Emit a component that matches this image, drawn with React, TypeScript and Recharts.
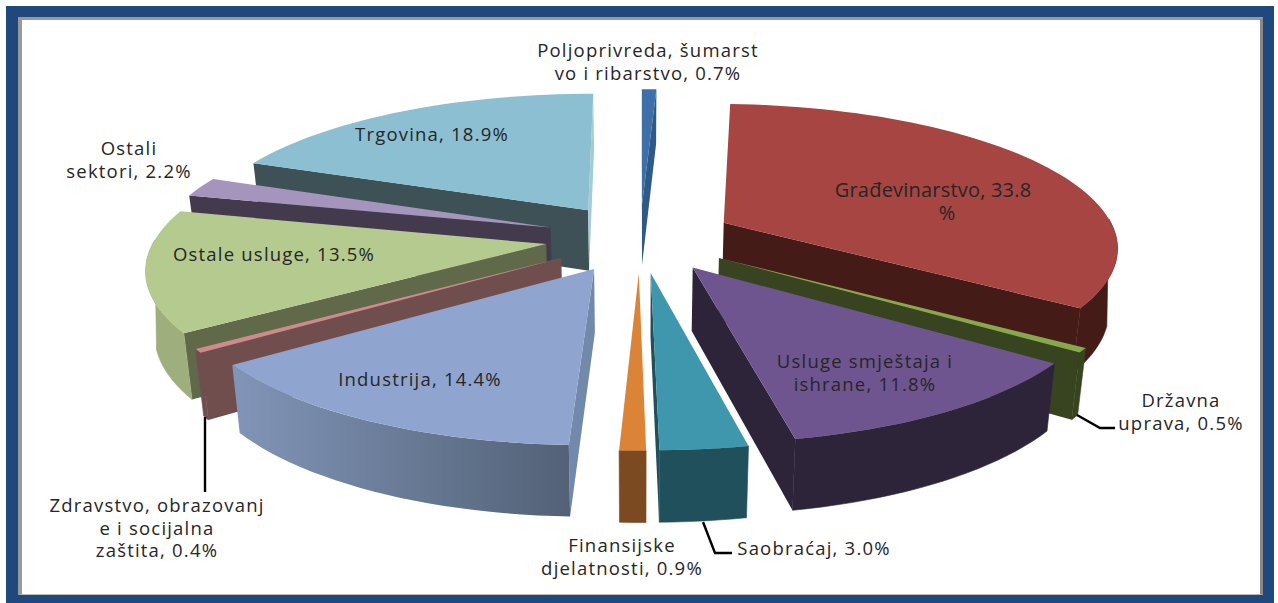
import React from 'react';
import { PieChart, Pie } from 'recharts';

const sectors = [
  'Poljoprivreda, šumarstvo i ribarstvo',
  'Građevinarstvo',
  'Državna uprava',
  'Usluge smještaja i ishrane',
  'Saobraćaj',
  'Finansijske djelatnosti',
  'Industrija',
  'Zdravstvo, obrazovanje i socijalna zaštita',
  'Ostale usluge',
  'Ostali sektori',
  'Trgovina',
];
const shares = [0.7, 33.8, 0.5, 11.8, 3.0, 0.9, 14.4, 0.4, 13.5, 2.2, 18.9];

// colours per sector: top face, outer wall, cut faces
const topColors = ['#3D70A8', '#A64541', '#86A94C', '#6F5590', '#3F97AE', '#DB8437', '#8FA5CF', '#CF8B8A', '#B5CA8E', '#A594BC', '#8CBFD1'];
const wallColors = ['#2B5078', '#451B18', '#38431F', '#2E2439', '#20505C', '#7B4A20', 'url(#industrijaWall)', '#704E4D', '#9FAE7D', '#433A4E', '#3D5157'];
const startCutColors = ['#2F5A88', '#451B18', '#38431F', '#2E2439', '#20505C', '#7B4A20', '#7389AC', '#704E4D', '#61694B', '#433A4E', '#3D5157'];
const endCutColors = ['#2F5A88', '#451B18', '#38431F', '#2E2439', '#20505C', '#7B4A20', '#6A7D9E', '#704E4D', '#61694B', '#433A4E', '#A5CBD8'];

// back slices first so the front ones cover them
const drawOrder = [10, 0, 9, 8, 1, 2, 3, 7, 6, 4, 5];

const labelLines = [
  ['Poljoprivreda, šumarst', 'vo i ribarstvo, 0.7%'],
  ['Građevinarstvo, 33.8', '%'],
  ['Državna', 'uprava, 0.5%'],
  ['Usluge smještaja i', 'ishrane, 11.8%'],
  ['Saobraćaj, 3.0%'],
  ['Finansijske', 'djelatnosti, 0.9%'],
  ['Industrija, 14.4%'],
  ['Zdravstvo, obrazovanj', 'e i socijalna', 'zaštita, 0.4%'],
  ['Ostale usluge, 13.5%'],
  ['Ostali', 'sektori, 2.2%'],
  ['Trgovina, 18.9%'],
];
// label anchor [centre x, first baseline]
const labelSpots = [
  [648, 57], [933, 197], [1181, 407], [865, 368], [814, 555], [622, 552],
  [420, 386], [157, 512], [274, 261], [129, 155], [432, 141],
];
const leaderLines: Record<number, string> = {
  2: 'M1077 415 L1100 428 L1115 428',
  4: 'M703 522 L715 553 L732 553',
  7: 'M205 417 L205 492',
};

const tableData = sectors.map((name, i) => ({ name, value: shares[i] }));

const TILT = 0.362; // vertical squash of the pie
const PERSPECTIVE = 0.111;
const EXPLODE = 0.24;
const DEPTH = 62; // wall height at the pie centre
const BOTTOM_SQUEEZE = 0.982;
const ANGLE_WARP = 2.5; // degrees, the source render opens the front slices a bit
const APEX_LIFT = 7;

type Pt = [number, number];

function project(cx: number, cy: number, r: number, X: number, Z: number, bottom = false): Pt {
  const d = 1 + PERSPECTIVE * Z;
  let x = cx + (r * X) / d;
  let y = cy - (r * TILT * Z) / d;
  if (bottom) {
    x = cx + (x - cx) * BOTTOM_SQUEEZE;
    y += DEPTH / d;
  }
  return [x, y];
}

const toPath = (pts: Pt[]) =>
  pts.map((p, i) => `${i ? 'L' : 'M'}${p[0].toFixed(1)} ${p[1].toFixed(1)}`).join(' ') + ' Z';

const rad = (deg: number) => (deg * Math.PI) / 180;

function Slice3D(props: any) {
  const { cx, cy, outerRadius: r, startAngle, endAngle, index } = props;
  // clockwise degrees from the top
  const t0 = 90 - startAngle;
  const t1 = 90 - endAngle;
  const mid = rad((t0 + t1) / 2);
  const ex = Math.sin(mid) * EXPLODE;
  const ez = Math.cos(mid) * EXPLODE;

  const rim = (deg: number, bottom = false) => {
    const w = deg - ANGLE_WARP * Math.sin(rad(deg));
    return project(cx, cy, r, Math.sin(rad(w)) + ex, Math.cos(rad(w)) + ez, bottom);
  };
  const apex = (bottom = false): Pt => {
    const p = project(cx, cy, r, ex, ez, bottom);
    return [p[0], p[1] - APEX_LIFT];
  };

  const arcAngles = (a: number, b: number) => {
    const out: number[] = [];
    const n = Math.max(1, Math.ceil((b - a) / 2));
    for (let i = 0; i <= n; i++) out.push(a + ((b - a) * i) / n);
    return out;
  };

  const top: Pt[] = [apex(), ...arcAngles(t0, t1).map((a) => rim(a))];

  const cutFace = (deg: number): Pt[] => [apex(), rim(deg), rim(deg, true), apex(true)];
  const area = (q: Pt[]) =>
    q.reduce((s, p, i) => {
      const n = q[(i + 1) % q.length];
      return s + p[0] * n[1] - n[0] * p[1];
    }, 0);

  const startFace = cutFace(t0);
  const endFace = cutFace(t1);

  // front half of the rim only, the sides run as a tangent from top rim to bottom rim
  const wa = Math.max(t0, 88);
  const wb = Math.min(t1, 272);
  const ba = t0 < 88 ? 106 : wa;
  const bb = t1 > 272 ? 254 : wb;
  const wall: Pt[] =
    wb > wa
      ? [...arcAngles(wa, wb).map((a) => rim(a)), ...arcAngles(ba, bb).reverse().map((a) => rim(a, true))]
      : [];

  return (
    <g>
      {area(startFace) < 0 && <path d={toPath(startFace)} fill={startCutColors[index]} />}
      {area(endFace) > 0 && <path d={toPath(endFace)} fill={endCutColors[index]} />}
      {wall.length > 0 && (
        <path d={toPath(wall)} fill={wallColors[index]} stroke={index === 6 ? 'none' : wallColors[index]} strokeWidth={0.6} />
      )}
      <path d={toPath(top)} fill={topColors[index]} />
    </g>
  );
}

function SliceLabel(props: any) {
  const { index } = props;
  const [x, y] = labelSpots[index];
  const big = index === 1;
  return (
    <g>
      {leaderLines[index] && <path d={leaderLines[index]} fill="none" stroke="#000" strokeWidth={2.4} />}
      <text
        textAnchor="middle"
        fontFamily="'Open Sans', sans-serif"
        fontSize={big ? 20 : 18.5}
        letterSpacing={big ? 0.2 : 1.2}
        fill="#262626"
      >
        {labelLines[index].map((line, i) => (
          <tspan key={i} x={big && i === 1 ? x + 14 : x} y={y + i * (big ? 23 : 22.5)}>
            {line}
          </tspan>
        ))}
      </text>
    </g>
  );
}

const frameStyle: React.CSSProperties = {
  position: 'absolute',
  left: 6,
  top: 6,
  width: 1268,
  height: 597,
  background: '#1F497D',
};
const panelStyle: React.CSSProperties = {
  position: 'absolute',
  left: 12,
  top: 11,
  width: 1238,
  height: 574,
  background: '#fff',
  borderLeft: '4px solid #999',
  borderTop: '3px solid #999',
  borderRight: '3px solid #888',
  borderBottom: '1px solid #bbb',
};

export default function App() {
  return (
    <div style={{ position: 'absolute', left: 0, top: 0, width: 1278, height: 603, background: '#fff', overflow: 'hidden' }}>
      <div style={frameStyle}>
        <div style={panelStyle} />
      </div>
      <div style={{ position: 'absolute', left: 0, top: 0 }}>
        <PieChart width={1278} height={603} margin={{ top: 0, right: 0, bottom: 0, left: 0 }}>
          <defs>
            <linearGradient id="industrijaWall" x1="0" y1="0" x2="1" y2="0">
              <stop offset="0%" stopColor="#8195B8" />
              <stop offset="100%" stopColor="#526176" />
            </linearGradient>
          </defs>
          {drawOrder.map((sliceIndex) => (
            <Pie
              key={sliceIndex}
              data={tableData}
              dataKey="value"
              nameKey="name"
              cx={640}
              cy={245}
              outerRadius={395}
              startAngle={90}
              endAngle={-270}
              stroke="none"
              labelLine={false}
              isAnimationActive={false}
              shape={(p: any) => (p.index === sliceIndex ? <Slice3D {...p} /> : <g />)}
            />
          ))}
          <Pie
            data={tableData}
            dataKey="value"
            nameKey="name"
            cx={640}
            cy={245}
            outerRadius={395}
            startAngle={90}
            endAngle={-270}
            stroke="none"
            labelLine={false}
            isAnimationActive={false}
            shape={() => <g />}
            label={(p: any) => <SliceLabel {...p} />}
          />
        </PieChart>
      </div>
    </div>
  );
}
